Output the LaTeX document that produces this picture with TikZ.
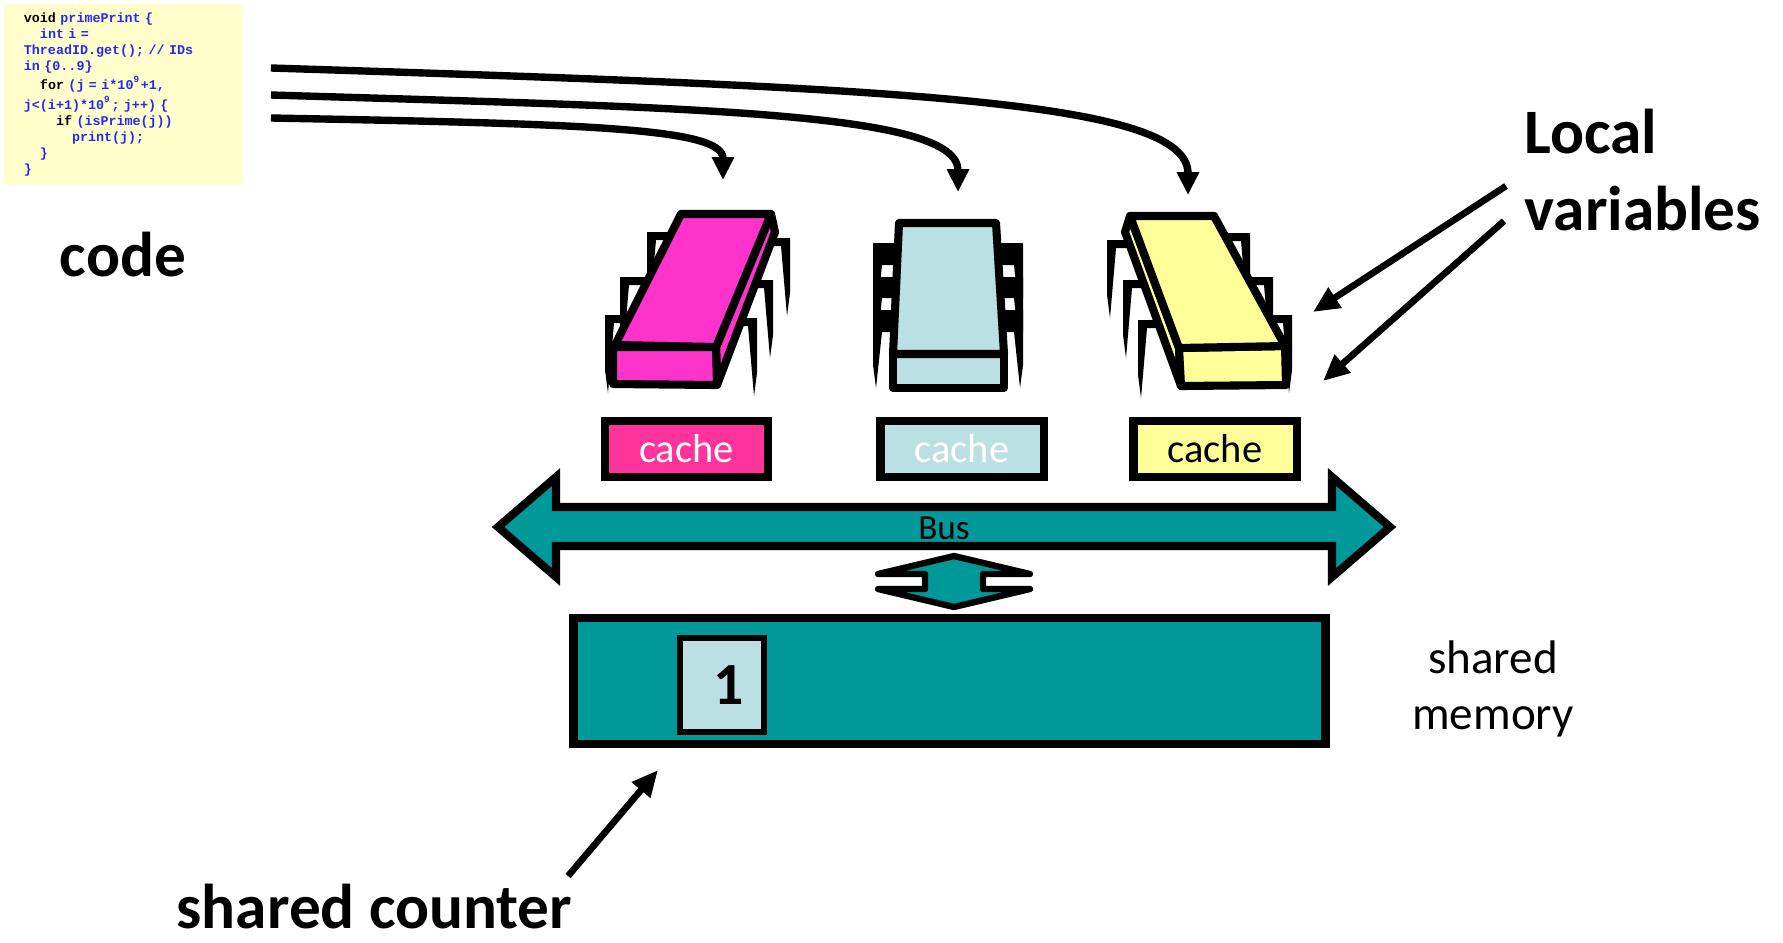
\documentclass[tikz,border=0pt]{standalone}
\usepackage{fontspec}
\setmainfont{Carlito}
\newfontfamily\codefont{Liberation Mono}
\usetikzlibrary{arrows.meta}
\definecolor{codebg}{RGB}{255,255,204}
\definecolor{codeblue}{RGB}{40,40,240}
\definecolor{chippink}{RGB}{255,51,204}
\definecolor{cachepink}{RGB}{255,51,153}
\definecolor{chipblue}{RGB}{187,224,227}
\definecolor{chipyellow}{RGB}{255,255,153}
\definecolor{busteal}{RGB}{0,153,153}
% one leg of a chip: [bar] {outer x} {top y} {1 right, -1 left}
\newcommand{\chipleg}[4][8]{%
  \begin{scope}[shift={(#2,#3)},xscale=#4]
    \fill (0,0) -- (0,55) -- (-3,78) -- (-9,#1) -- (-25,#1) -- (-25,0) -- cycle;
  \end{scope}}

\begin{document}
\begin{tikzpicture}[x=0.01cm,y=-0.01cm,
  chipface/.style={draw=black,line width=2.3pt,line join=round},
  cachebox/.style={draw=black,line width=2.3pt,minimum width=1.63cm,minimum height=0.56cm,inner sep=0pt,font=\fontsize{11.5}{13}\selectfont},
  bigtext/.style={font=\fontsize{18}{22}\selectfont\bfseries,inner sep=0pt},
  pointer/.style={-{Triangle[length=7.5pt,width=6.5pt]},line width=1.9pt},
  codearrow/.style={-{Triangle[length=6.5pt,width=6pt]},line width=2.1pt}]
\useasboundingbox (0,0) rectangle (1783,942);
\fill[white] (0,0) rectangle (1783,942);

\node[fill=codebg,minimum width=2.38cm,minimum height=1.81cm,text width=1.98cm,inner xsep=0.2cm,inner ysep=0pt,align=left,text=codeblue,
      font=\codefont\bfseries\fontsize{3.8}{4.55}\selectfont] (code) at (123,94.5)
  {\textcolor{black}{void} primePrint \{\\
   \phantom{xx}int i =\\
   ThreadID.get(); // IDs\\
   in \{0..9\}\\
   \phantom{xx}\textcolor{black}{for} (j = i*10\textsuperscript{9}+1,\\
   j<(i+1)*10\textsuperscript{9}; j++) \{\\
   \phantom{xxxx}\textcolor{black}{if} (isPrime(j))\\
   \phantom{xxxxxx}print(j);\\
   \phantom{xx}\}\\
   \}};
\node[bigtext,anchor=base] (codelabel) at (123,276) {code};

% chips
\chipleg{647}{232}{-1} \chipleg{620}{277}{-1} \chipleg{605}{315}{-1}
\chipleg{790}{238}{1} \chipleg{773}{280}{1} \chipleg{757}{318}{1}
\draw[chipface,fill=chippink] (716,347) -- (771,214) -- (775,232) -- (717,385) -- cycle;
\draw[chipface,fill=chippink] (613,347) -- (716,347) -- (717,385) -- (613,384) -- cycle;
\draw[chipface,fill=chippink] (615,345) -- (716,347) -- (771,214) -- (681,214) -- cycle;

\chipleg[22]{873}{243}{-1} \chipleg[21]{873}{277}{-1} \chipleg[22]{873}{310}{-1}
\chipleg[22]{1023}{243}{1} \chipleg[21]{1023}{277}{1} \chipleg[22]{1023}{310}{1}
\draw[chipface,fill=chipblue] (893,354) -- (1004,354) -- (1004,388) -- (893,388) -- cycle;
\draw[chipface,fill=chipblue] (899,223) -- (996,223) -- (1004,354) -- (893,354) -- cycle;

\chipleg{1107}{240}{-1} \chipleg{1123}{280}{-1} \chipleg{1138}{320}{-1}
\chipleg{1250}{233}{1} \chipleg{1273}{277}{1} \chipleg{1292}{315}{1}
\draw[chipface,fill=chipyellow] (1179,348) -- (1130,216) -- (1125,232) -- (1181,386) -- cycle;
\draw[chipface,fill=chipyellow] (1179,348) -- (1285,346) -- (1286,385) -- (1181,386) -- cycle;
\draw[chipface,fill=chipyellow] (1130,216) -- (1214,216) -- (1285,346) -- (1179,348) -- cycle;

\coordinate (codeout1) at (271,68);
\coordinate (codeout2) at (271,95);
\coordinate (codeout3) at (271,118);
\coordinate (pinktop) at (723,180);
\coordinate (bluetop) at (958,192);
\coordinate (yellowtop) at (1188,195);
\draw[codearrow] (codeout1) .. controls (900,88) and (1188,100) .. (yellowtop);
\draw[codearrow] (codeout2) .. controls (700,108) and (958,112) .. (bluetop);
\draw[codearrow] (codeout3) .. controls (590,124) and (723,128) .. (pinktop);

\node[cachebox,fill=cachepink,text=white] (cache1) at (686.5,449) {cache};
\node[cachebox,fill=chipblue,text=white] (cache2) at (962,449) {cache};
\node[cachebox,fill=chipyellow] (cache3) at (1215,449) {cache};

% bus and memory
\draw[fill=busteal,line width=2.3pt] (498,527) -- (556,477) -- (556,507) -- (1332,507) -- (1332,477) -- (1390,527)
  -- (1332,577) -- (1332,546) -- (556,546) -- (556,577) -- cycle;
\node[font=\fontsize{10}{12}\selectfont,inner sep=0pt] (buslabel) at (944,528) {Bus};
\draw[fill=busteal,line width=1.8pt,line join=round] (954,556) -- (1030,574) -- (983,574) -- (983,589) -- (1030,589) -- (954,607)
  -- (878,589) -- (925,589) -- (925,574) -- (878,574) -- cycle;
\node[draw,line width=2.5pt,fill=busteal,minimum width=7.51cm,minimum height=1.26cm,inner sep=0pt] (memory) at (949.5,681) {};
\node[draw,line width=1.9pt,fill=chipblue,minimum width=0.84cm,minimum height=0.94cm,inner sep=0pt,
      font=\fontsize{17}{20}\selectfont\bfseries] (counter) at (722,685) {\kern4pt 1};
\node[font=\fontsize{13.4}{16}\selectfont,inner sep=0pt,anchor=north,align=center] (sharedmem) at (1493,640) {shared\\memory};

\node[bigtext,anchor=north west,align=left] (localvars) at (1524,108) {Local\\variables};
\coordinate (lvout1) at (1506,186);
\coordinate (lvin1) at (1313,312);
\coordinate (lvout2) at (1504,221);
\coordinate (lvin2) at (1323,381);
\draw[pointer] (lvout1) -- (lvin1);
\draw[pointer] (lvout2) -- (lvin2);

\node[bigtext,anchor=base west] (sharedcounter) at (176,928) {shared counter};
\coordinate (scout) at (568,876);
\coordinate (scin) at (658,770);
\draw[pointer] (scout) -- (scin);
\end{tikzpicture}
\end{document}
